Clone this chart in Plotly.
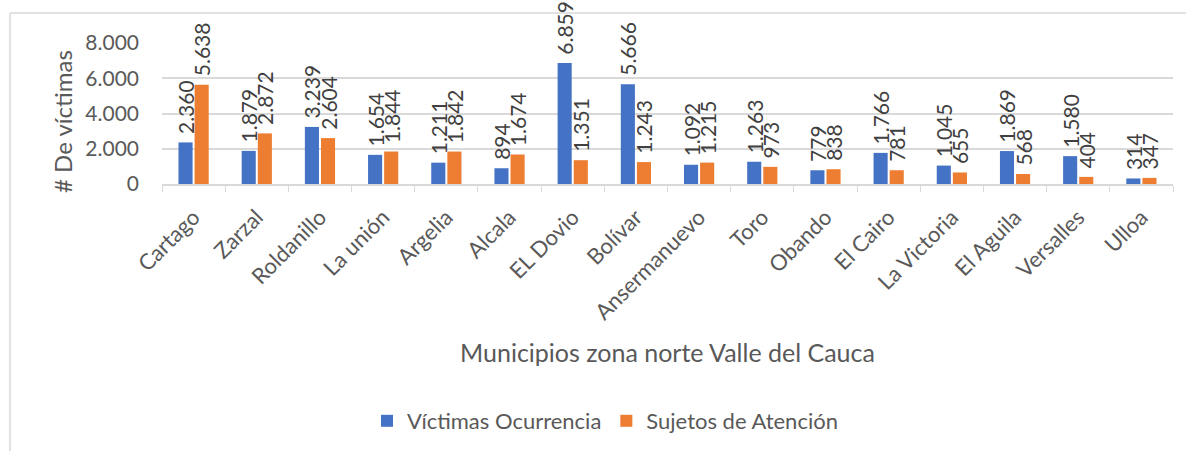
import plotly.graph_objects as go

municipios = ["Cartago", "Zarzal", "Roldanillo", "La unión", "Argelia", "Alcala", "EL Dovio",
              "Bolívar", "Ansermanuevo", "Toro", "Obando", "El Cairo", "La Victoria",
              "El Aguila", "Versalles", "Ulloa"]
victimas_ocurrencia = [2360, 1879, 3239, 1654, 1211, 894, 6859, 5666, 1092, 1263, 779, 1766,
                       1045, 1869, 1580, 314]
sujetos_atencion = [5638, 2872, 2604, 1844, 1842, 1674, 1351, 1243, 1215, 973, 838, 781,
                    655, 568, 404, 347]
y_ticks = [0, 2000, 4000, 6000, 8000]

FONT = "Lato"
GRAY = "#595959"
LABEL = "#404040"

fig = go.Figure()
for name, vals, col in [("Víctimas Ocurrencia", victimas_ocurrencia, "#4472C4"),
                        ("Sujetos de Atención", sujetos_atencion, "#ED7D31")]:
    fig.add_trace(go.Bar(
        x=municipios, y=vals, name=name, marker=dict(color=col, line=dict(width=0)),
        texttemplate="\u00a0%{y:,d}", textposition="outside", textangle=-90,
        constraintext="none", cliponaxis=False,
        textfont=dict(family=FONT, size=21, color=LABEL),
    ))

W, H = 1186, 451
L, R, T, B = 162, 13, 43, 267
pw, ph = W - L - R, H - T - B

def px(x):
    return (x - L) / pw

def py(y):
    return (H - B - y) / ph

fig.update_layout(
    width=W, height=H, barmode="group", bargap=0.49, bargroupgap=0.125,
    separators=",.",
    margin=dict(l=L, r=R, t=T, b=B, autoexpand=False),
    plot_bgcolor="white", paper_bgcolor="white",
    font=dict(family=FONT, size=21, color=GRAY),
    showlegend=True,
    legend=dict(orientation="h", x=px(605), y=py(421), xanchor="center", yanchor="middle",
                font=dict(family=FONT, size=22, color=GRAY), itemsizing="constant",
                itemwidth=30, traceorder="normal"),
    xaxis=dict(type="category", tickangle=-45, showline=True, linecolor="#d9d9d9",
               linewidth=1.5, ticks="outside", tickson="boundaries", ticklen=6,
               tickcolor="#d9d9d9", showgrid=False, ticklabelstandoff=10,
               tickfont=dict(family=FONT, size=22, color=GRAY)),
    yaxis=dict(range=[0, 8000], tickvals=y_ticks, tickformat=",d", showgrid=True,
               gridcolor="#d9d9d9", gridwidth=1.5, zeroline=False, showline=False,
               ticklabelstandoff=22, tickfont=dict(family=FONT, size=21, color=GRAY)),
    annotations=[
        dict(text="Municipios zona norte Valle del Cauca", xref="paper", yref="paper",
             x=px(667), y=py(352), xanchor="center", yanchor="middle", showarrow=False,
             font=dict(family=FONT, size=25, color=GRAY)),
        dict(text="# De víctimas", xref="paper", yref="paper", x=px(62), y=py(122),
             xanchor="center", yanchor="middle", showarrow=False, textangle=-90,
             font=dict(family=FONT, size=24, color=GRAY)),
    ],
    shapes=[
        dict(type="line", xref="paper", yref="paper", x0=px(10), x1=px(1186), y0=py(13), y1=py(13),
             line=dict(color="#d9d9d9", width=1.5)),
        dict(type="line", xref="paper", yref="paper", x0=px(10), x1=px(10), y0=py(13), y1=py(451),
             line=dict(color="#d9d9d9", width=1.5)),
    ],
)

fig.write_html("out.html", config={"displayModeBar": False},
               post_script="document.body.style.margin='0';")
